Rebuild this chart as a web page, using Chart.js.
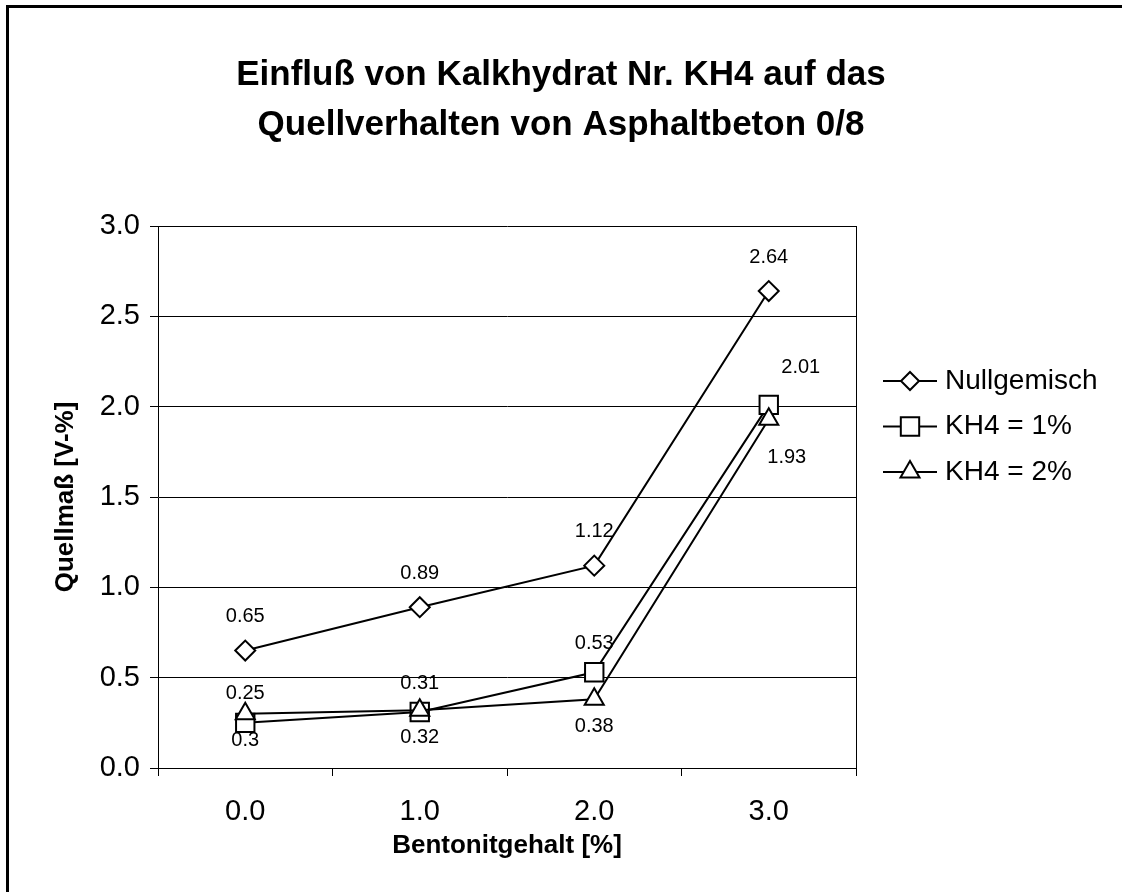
<!DOCTYPE html>
<html>
<head>
<meta charset="utf-8">
<script src="https://cdn.jsdelivr.net/npm/chart.js@4.4.1/dist/chart.umd.min.js"></script>
<style>
  html, body { margin: 0; padding: 0; background: #fff; }
  canvas { display: block; }
</style>
</head>
<body>
<canvas id="quellChart" width="1122" height="892"></canvas>
<script>
// Werte
const bentonit = ['0.0', '1.0', '2.0', '3.0'];
const nullgemisch = [0.65, 0.89, 1.12, 2.64];
const kh4Eins = [0.25, 0.31, 0.53, 2.01];
const kh4Zwei = [0.3, 0.32, 0.38, 1.93];
const yTicks = [0, 0.5, 1, 1.5, 2, 2.5, 3];
const titel = ['Einfluß von Kalkhydrat Nr. KH4 auf das', 'Quellverhalten von Asphaltbeton 0/8'];

const FONT = '"Liberation Sans", Arial, sans-serif';

// Marker wie in Chart.js, fuer die eigene Legende
function marker(ctx, style, r, x, y) {
    ctx.beginPath();
    if (style === 'rectRot') {
        ctx.moveTo(x, y - r); ctx.lineTo(x + r, y); ctx.lineTo(x, y + r); ctx.lineTo(x - r, y);
    } else if (style === 'rect') {
        const s = r * Math.SQRT1_2;
        ctx.rect(x - s, y - s, 2 * s, 2 * s);
    } else {
        ctx.moveTo(x, y - r); ctx.lineTo(x + r * 0.866, y + r / 2); ctx.lineTo(x - r * 0.866, y + r / 2);
    }
    ctx.closePath();
    ctx.fill();
    ctx.stroke();
}

const extras = {
    id: 'extras',
    afterDatasetsDraw(chart) {
        const ctx = chart.ctx;
        const area = chart.chartArea;
        ctx.save();
        // rechter Rahmen der Zeichenflaeche
        ctx.strokeStyle = '#000';
        ctx.lineWidth = 1;
        ctx.beginPath();
        ctx.moveTo(Math.round(area.right) + 0.5, area.top);
        ctx.lineTo(Math.round(area.right) + 0.5, area.bottom);
        ctx.stroke();
        // Datenbeschriftungen
        ctx.font = '20px ' + FONT;
        ctx.fillStyle = '#000';
        ctx.textAlign = 'center';
        ctx.textBaseline = 'middle';
        chart.data.datasets.forEach((ds, i) => {
            const meta = chart.getDatasetMeta(i);
            meta.data.forEach((pt, j) => {
                const last = j === meta.data.length - 1 && ds.labelLast;
                const dx = last ? ds.labelLast.dx : 0;
                const dy = last ? ds.labelLast.dy : ds.labelDy;
                ctx.fillText(String(ds.data[j]), pt.x + dx, pt.y + dy);
            });
        });
        ctx.restore();
    },
    afterDraw(chart) {
        const ctx = chart.ctx;
        ctx.save();
        // Rahmen oben und links
        ctx.fillStyle = '#000';
        ctx.fillRect(6, 5, 1116, 3);
        ctx.fillRect(6, 5, 3, 887);
        // Titel
        ctx.font = 'bold 35px ' + FONT;
        ctx.textAlign = 'center';
        ctx.textBaseline = 'alphabetic';
        ctx.fillText(titel[0], 561, 85);
        ctx.fillText(titel[1], 561, 135);
        // Legende
        ctx.font = '28px ' + FONT;
        ctx.textAlign = 'left';
        ctx.textBaseline = 'middle';
        chart.data.datasets.forEach((ds, i) => {
            const y = 381 + i * 45.5;
            ctx.strokeStyle = '#000';
            ctx.lineWidth = 2;
            ctx.beginPath();
            ctx.moveTo(883, y);
            ctx.lineTo(937, y);
            ctx.stroke();
            ctx.fillStyle = '#fff';
            marker(ctx, ds.pointStyle, ds.legendRadius, 910, y);
            ctx.fillStyle = '#000';
            ctx.fillText(ds.label, 945, y);
        });
        ctx.restore();
    }
};

const common = {
    borderColor: '#000',
    borderWidth: 2,
    backgroundColor: '#fff',
    pointBackgroundColor: '#fff',
    pointBorderColor: '#000',
    pointBorderWidth: 2,
    tension: 0
};

const quellCtx = document.getElementById('quellChart').getContext('2d');
const quellChart = new Chart(quellCtx, {
    type: 'line',
    data: {
        labels: bentonit,
        datasets: [
            Object.assign({}, common, {
                label: 'Nullgemisch', data: nullgemisch, pointStyle: 'rectRot',
                pointRadius: 10, pointHoverRadius: 10, legendRadius: 9, labelDy: -34, order: 2
            }),
            Object.assign({}, common, {
                label: 'KH4 = 1%', data: kh4Eins, pointStyle: 'rect',
                pointRadius: 13, pointHoverRadius: 13, legendRadius: 13, labelDy: -29,
                labelLast: { dx: 32, dy: -37 }, order: 1
            }),
            Object.assign({}, common, {
                label: 'KH4 = 2%', data: kh4Zwei, pointStyle: 'triangle',
                pointRadius: 11, pointHoverRadius: 11, legendRadius: 11, labelDy: 27,
                labelLast: { dx: 18, dy: 38 }, order: 0
            })
        ]
    },
    options: {
        responsive: false,
        animation: false,
        devicePixelRatio: 1,
        layout: { padding: { left: 10, top: 226, right: 266, bottom: 0 } },
        plugins: {
            legend: { display: false },
            tooltip: { enabled: false }
        },
        scales: {
            x: {
                type: 'category',
                offset: true,
                grid: { offset: true, drawOnChartArea: false, drawTicks: true, tickLength: 8, color: '#000', lineWidth: 1 },
                border: { color: '#000', width: 1 },
                ticks: { color: '#000', font: { size: 29, family: FONT }, padding: 19, maxRotation: 0, autoSkip: false },
                title: {
                    display: true, text: 'Bentonitgehalt [%]', color: '#000',
                    font: { size: 26, weight: 'bold', family: FONT }, padding: { top: 0, bottom: 31 }
                },
                afterFit(scale) { scale.height = 124; }
            },
            y: {
                min: 0,
                max: 3,
                afterBuildTicks(scale) { scale.ticks = yTicks.map(v => ({ value: v })); },
                grid: { color: '#000', lineWidth: 1, tickLength: 8 },
                border: { color: '#000', width: 1 },
                ticks: {
                    color: '#000', font: { size: 29, family: FONT }, padding: 10,
                    callback: v => Number(v).toFixed(1)
                },
                title: {
                    display: true, text: 'Quellmaß [V-%]', color: '#000',
                    font: { size: 26, weight: 'bold', family: FONT }, padding: { top: 40, bottom: 0 }
                },
                afterFit(scale) { scale.width = 148; }
            }
        }
    },
    plugins: [extras]
});
</script>
</body>
</html>
